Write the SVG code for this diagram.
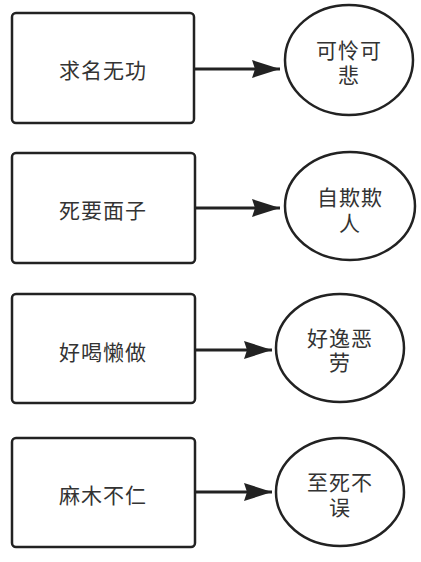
<svg xmlns="http://www.w3.org/2000/svg" width="421" height="562" viewBox="0 0 421 562">
<style>
.box{fill:#fff;stroke:#222;stroke-width:2.5}
.t{font-family:"Liberation Sans","Noto Sans CJK SC",sans-serif;font-size:21px;fill:#333;text-anchor:middle;dominant-baseline:central;letter-spacing:1px}
.c{stroke:#222;stroke-width:3;fill:none}
</style>
<defs>
<marker id="ah" markerWidth="28" markerHeight="18" refX="28" refY="9" orient="auto" markerUnits="userSpaceOnUse">
<path d="M0,0 L28,9 L0,18 L3,9 Z" fill="#222"/>
</marker>
</defs>
<rect width="421" height="562" fill="#fff"/>
<g id="connectors">
<path class="c" d="M194,69 L280,69" marker-end="url(#ah)"/>
<path class="c" d="M195,208 L280,208" marker-end="url(#ah)"/>
<path class="c" d="M195,350 L272,350" marker-end="url(#ah)"/>
<path class="c" d="M195,492 L272,492" marker-end="url(#ah)"/>
</g>
<g id="n1"><rect class="box" x="12" y="13" width="182" height="110" rx="4"/><text class="t" x="103" y="70">求名无功</text></g>
<g id="n1b"><ellipse class="box" cx="349" cy="60" rx="64" ry="55"/><text class="t" x="349" y="50">可怜可</text><text class="t" x="349" y="75">悲</text></g>
<g id="n2"><rect class="box" x="12" y="153" width="183" height="110" rx="4"/><text class="t" x="103" y="210">死要面子</text></g>
<g id="n2b"><ellipse class="box" cx="350" cy="206" rx="65" ry="54"/><text class="t" x="350" y="197">自欺欺</text><text class="t" x="350" y="223">人</text></g>
<g id="n3"><rect class="box" x="12" y="294" width="183" height="109" rx="4"/><text class="t" x="103" y="352">好喝懒做</text></g>
<g id="n3b"><ellipse class="box" cx="340" cy="348" rx="64" ry="54"/><text class="t" x="340" y="338">好逸恶</text><text class="t" x="340" y="362">劳</text></g>
<g id="n4"><rect class="box" x="12" y="438" width="183" height="109" rx="4"/><text class="t" x="103" y="495">麻木不仁</text></g>
<g id="n4b"><ellipse class="box" cx="340" cy="492" rx="64" ry="54"/><text class="t" x="340" y="482">至死不</text><text class="t" x="340" y="507">误</text></g>
</svg>
